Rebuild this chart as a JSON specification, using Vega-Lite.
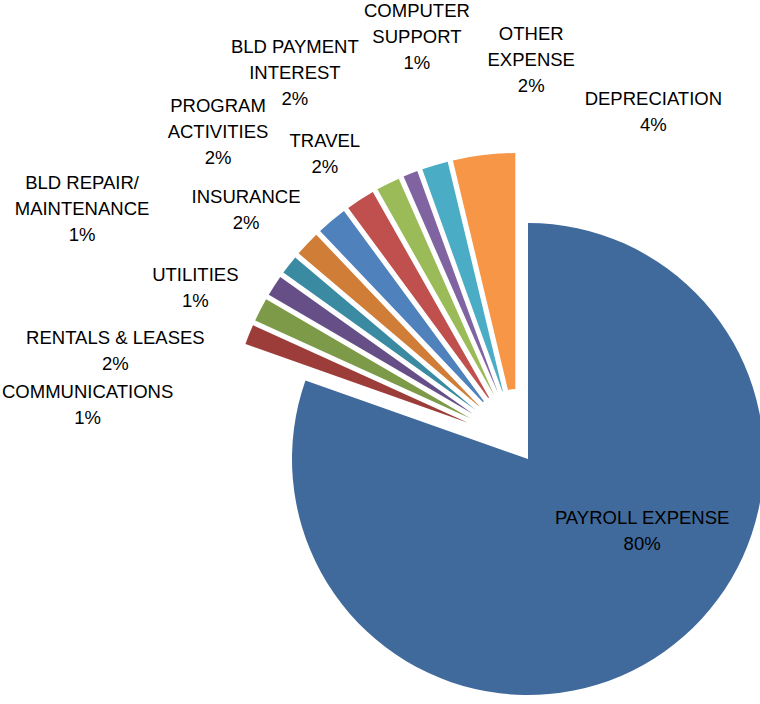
{
  "$schema": "https://vega.github.io/schema/vega-lite/v6.json",
  "width": 484,
  "height": 522,
  "autosize": "none",
  "padding": {"left": 276, "top": 182, "right": 0, "bottom": 0},
  "background": "#ffffff",
  "config": {
    "view": {"stroke": null},
    "text": {"font": "Liberation Sans, Arial, sans-serif", "fontSize": 18.5, "fill": "#000000", "lineHeight": 26, "lineBreak": "\n"}
  },
  "data": {
    "values": [
      {"n": 1, "item": "PAYROLL EXPENSE", "label": "PAYROLL EXPENSE\n80%", "share": 0.804},
      {"n": 2, "item": "COMMUNICATIONS", "label": "COMMUNICATIONS\n1%", "share": 0.014},
      {"n": 3, "item": "RENTALS & LEASES", "label": "RENTALS & LEASES\n2%", "share": 0.016},
      {"n": 4, "item": "UTILITIES", "label": "UTILITIES\n1%", "share": 0.0145},
      {"n": 5, "item": "BLD REPAIR/MAINTENANCE", "label": "BLD REPAIR/\nMAINTENANCE\n1%", "share": 0.0135},
      {"n": 6, "item": "INSURANCE", "label": "INSURANCE\n2%", "share": 0.017},
      {"n": 7, "item": "PROGRAM ACTIVITIES", "label": "PROGRAM\nACTIVITIES\n2%", "share": 0.02},
      {"n": 8, "item": "TRAVEL", "label": "TRAVEL\n2%", "share": 0.019},
      {"n": 9, "item": "BLD PAYMENT INTEREST", "label": "BLD PAYMENT\nINTEREST\n2%", "share": 0.016},
      {"n": 10, "item": "COMPUTER SUPPORT", "label": "COMPUTER\nSUPPORT\n1%", "share": 0.011},
      {"n": 11, "item": "OTHER EXPENSE", "label": "OTHER\nEXPENSE\n2%", "share": 0.0175},
      {"n": 12, "item": "DEPRECIATION", "label": "DEPRECIATION\n4%", "share": 0.0375}
    ]
  },
  "encoding": {
    "theta": {"field": "share", "type": "quantitative", "stack": true},
    "order": {"field": "n", "type": "quantitative"}
  },
  "layer": [
    {
      "mark": {"type": "arc", "outerRadius": 236, "xOffset": 10, "yOffset": 16},
      "encoding": {
        "color": {"field": "item", "type": "nominal", "legend": null, "scale": {
          "domain": ["PAYROLL EXPENSE", "COMMUNICATIONS", "RENTALS & LEASES", "UTILITIES", "BLD REPAIR/MAINTENANCE", "INSURANCE", "PROGRAM ACTIVITIES", "TRAVEL", "BLD PAYMENT INTEREST", "COMPUTER SUPPORT", "OTHER EXPENSE", "DEPRECIATION"],
          "range": ["#416A9C", "#9C3D3A", "#7D9A48", "#654F86", "#3A8AA2", "#D07D38", "#4F81BD", "#C0504D", "#9BBB59", "#8064A2", "#4BACC6", "#F79646"]}},
        "opacity": {"condition": {"test": "datum.item === 'PAYROLL EXPENSE'", "value": 1}, "value": 0}
      }
    },
    {
      "mark": {"type": "arc", "outerRadius": 290, "innerRadius": 54, "padAngle": 0.018},
      "encoding": {
        "color": {"field": "item", "type": "nominal", "legend": null},
        "opacity": {"condition": {"test": "datum.item !== 'PAYROLL EXPENSE'", "value": 1}, "value": 0}
      }
    },
    {
      "mark": {"type": "text", "radius": 135, "xOffset": 10, "yOffset": 16, "dy": {"expr": "-13 * (length(split(datum.label, '\\n')) - 1)"}},
      "encoding": {
        "theta": {"field": "share", "type": "quantitative", "stack": true, "scale": {"domain": [0, 1], "range": [0, 5.3097], "zero": false, "nice": false}},
        "text": {"field": "label", "type": "nominal"},
        "opacity": {"condition": {"test": "datum.item === 'PAYROLL EXPENSE'", "value": 1}, "value": 0}
      }
    },
    {
      "mark": {"type": "text", "radius": 432, "dy": {"expr": "-13 * (length(split(datum.label, '\\n')) - 1)"}},
      "encoding": {
        "theta": {"field": "share", "type": "quantitative", "stack": true, "scale": {"domain": [0.8, 1], "range": [4.6986, 6.5347], "zero": false, "nice": false}},
        "text": {"field": "label", "type": "nominal"},
        "opacity": {"condition": {"test": "indexof(['COMMUNICATIONS','PROGRAM ACTIVITIES'], datum.item) >= 0", "value": 1}, "value": 0}
      }
    },
    {
      "mark": {"type": "text", "radius": 413, "dy": {"expr": "-13 * (length(split(datum.label, '\\n')) - 1)"}},
      "encoding": {
        "theta": {"field": "share", "type": "quantitative", "stack": true, "scale": {"domain": [0.8, 1], "range": [4.6986, 6.5347], "zero": false, "nice": false}},
        "text": {"field": "label", "type": "nominal"},
        "opacity": {"condition": {"test": "datum.item === 'RENTALS & LEASES'", "value": 1}, "value": 0}
      }
    },
    {
      "mark": {"type": "text", "radius": 348, "dy": {"expr": "-13 * (length(split(datum.label, '\\n')) - 1)"}},
      "encoding": {
        "theta": {"field": "share", "type": "quantitative", "stack": true, "scale": {"domain": [0.8, 1], "range": [4.6986, 6.5347], "zero": false, "nice": false}},
        "text": {"field": "label", "type": "nominal"},
        "opacity": {"condition": {"test": "datum.item === 'TRAVEL'", "value": 1}, "value": 0}
      }
    },
    {
      "mark": {"type": "text", "radius": 495, "dy": {"expr": "-13 * (length(split(datum.label, '\\n')) - 1)"}},
      "encoding": {
        "theta": {"field": "share", "type": "quantitative", "stack": true, "scale": {"domain": [0.8, 1], "range": [4.6986, 6.5347], "zero": false, "nice": false}},
        "text": {"field": "label", "type": "nominal"},
        "opacity": {"condition": {"test": "datum.item === 'BLD REPAIR/MAINTENANCE'", "value": 1}, "value": 0}
      }
    },
    {
      "mark": {"type": "text", "radius": 358, "dy": {"expr": "-13 * (length(split(datum.label, '\\n')) - 1)"}},
      "encoding": {
        "theta": {"field": "share", "type": "quantitative", "stack": true, "scale": {"type": "pow", "exponent": 4, "domain": [0.8, 1], "range": [4.8369, 6.9293], "zero": false, "nice": false}},
        "text": {"field": "label", "type": "nominal"},
        "opacity": {"condition": {"test": "indexof(['UTILITIES','INSURANCE','DEPRECIATION'], datum.item) >= 0", "value": 1}, "value": 0}
      }
    },
    {
      "mark": {"type": "text", "radius": 383, "dy": {"expr": "-13 * (length(split(datum.label, '\\n')) - 1)"}},
      "encoding": {
        "theta": {"field": "share", "type": "quantitative", "stack": true, "scale": {"type": "pow", "exponent": 4, "domain": [0.8, 1], "range": [4.8369, 6.9293], "zero": false, "nice": false}},
        "text": {"field": "label", "type": "nominal"},
        "opacity": {"condition": {"test": "datum.item === 'OTHER EXPENSE'", "value": 1}, "value": 0}
      }
    },
    {
      "mark": {"type": "text", "radius": 418, "dy": {"expr": "-13 * (length(split(datum.label, '\\n')) - 1)"}},
      "encoding": {
        "theta": {"field": "share", "type": "quantitative", "stack": true, "scale": {"domain": [0.8, 1], "range": [2.9541, 7.3768], "zero": false, "nice": false}},
        "text": {"field": "label", "type": "nominal"},
        "opacity": {"condition": {"test": "datum.item === 'COMPUTER SUPPORT'", "value": 1}, "value": 0}
      }
    },
    {
      "mark": {"type": "text", "radius": 432, "dy": {"expr": "-13 * (length(split(datum.label, '\\n')) - 1)"}},
      "encoding": {
        "theta": {"field": "share", "type": "quantitative", "stack": true, "scale": {"domain": [0.8, 1], "range": [2.9541, 7.3768], "zero": false, "nice": false}},
        "text": {"field": "label", "type": "nominal"},
        "opacity": {"condition": {"test": "datum.item === 'BLD PAYMENT INTEREST'", "value": 1}, "value": 0}
      }
    }
  ],
  "resolve": {"scale": {"theta": "independent"}}
}
